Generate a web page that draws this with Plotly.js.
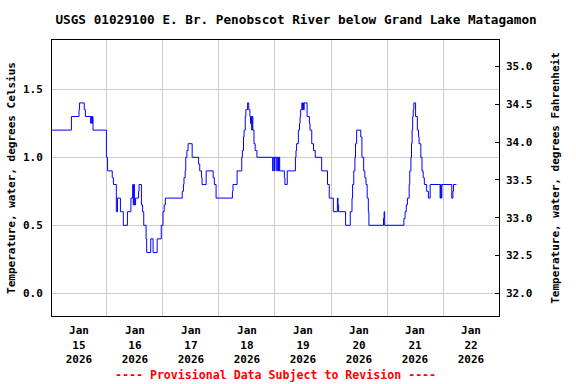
<!DOCTYPE html>
<html>
<head>
<meta charset="utf-8">
<script src="https://cdn.plot.ly/plotly-3.0.1.min.js"></script>
<style>html,body{margin:0;padding:0;background:#fff;}#chart{width:576px;height:384px;}</style>
</head>
<body>
<div id="chart"></div>
<script>
// Water temperature (deg C), change points of the 15-minute record
const times = [
"2026-01-14 12:30","2026-01-14 20:45",
"2026-01-15 00:00","2026-01-15 00:15","2026-01-15 02:15","2026-01-15 02:45","2026-01-15 05:00","2026-01-15 05:15",
"2026-01-15 05:30","2026-01-15 05:45","2026-01-15 06:00","2026-01-15 11:45","2026-01-15 12:15","2026-01-15 14:15",
"2026-01-15 14:45","2026-01-15 16:00","2026-01-15 16:30","2026-01-15 17:45","2026-01-15 19:00","2026-01-15 20:45",
"2026-01-15 22:15","2026-01-15 23:00","2026-01-15 23:15","2026-01-15 23:30","2026-01-15 23:45",
"2026-01-16 00:15","2026-01-16 01:30","2026-01-16 01:45","2026-01-16 02:45","2026-01-16 03:15","2026-01-16 03:45",
"2026-01-16 04:45","2026-01-16 05:00","2026-01-16 06:45","2026-01-16 07:45","2026-01-16 09:30","2026-01-16 11:15",
"2026-01-16 12:00","2026-01-16 12:30","2026-01-16 13:00","2026-01-16 20:15","2026-01-16 20:45","2026-01-16 21:00",
"2026-01-16 21:30","2026-01-16 21:45","2026-01-16 22:15","2026-01-16 22:45",
"2026-01-17 00:30","2026-01-17 03:15","2026-01-17 03:45","2026-01-17 04:30","2026-01-17 04:45","2026-01-17 06:30",
"2026-01-17 09:30","2026-01-17 10:00","2026-01-17 10:45","2026-01-17 17:45","2026-01-17 18:00","2026-01-17 19:45",
"2026-01-17 21:45","2026-01-17 22:00","2026-01-17 22:30","2026-01-17 22:45","2026-01-17 23:15","2026-01-17 23:30",
"2026-01-18 00:15","2026-01-18 00:45","2026-01-18 01:15","2026-01-18 01:30","2026-01-18 01:45","2026-01-18 02:00",
"2026-01-18 02:15","2026-01-18 02:30","2026-01-18 03:00","2026-01-18 03:30","2026-01-18 04:15","2026-01-18 11:00",
"2026-01-18 11:15","2026-01-18 11:45","2026-01-18 12:00","2026-01-18 12:45","2026-01-18 13:00","2026-01-18 13:30",
"2026-01-18 13:45","2026-01-18 14:00","2026-01-18 16:00","2026-01-18 16:15","2026-01-18 17:15","2026-01-18 20:45",
"2026-01-18 21:00","2026-01-18 21:15","2026-01-18 22:00","2026-01-18 22:30","2026-01-18 22:45","2026-01-18 23:00",
"2026-01-18 23:30","2026-01-18 23:45",
"2026-01-19 00:00","2026-01-19 00:15","2026-01-19 00:30","2026-01-19 01:45","2026-01-19 02:45","2026-01-19 03:00",
"2026-01-19 03:45","2026-01-19 04:30","2026-01-19 05:15","2026-01-19 08:00","2026-01-19 10:30","2026-01-19 11:15",
"2026-01-19 13:00","2026-01-19 14:45","2026-01-19 15:00","2026-01-19 15:15","2026-01-19 18:15","2026-01-19 20:15",
"2026-01-19 21:00","2026-01-19 21:15","2026-01-19 21:45","2026-01-19 22:15","2026-01-19 22:30","2026-01-19 23:00",
"2026-01-20 00:45","2026-01-20 01:15","2026-01-20 02:00","2026-01-20 02:30","2026-01-20 03:00","2026-01-20 03:30",
"2026-01-20 04:00","2026-01-20 04:15","2026-01-20 10:30","2026-01-20 10:45","2026-01-20 11:00","2026-01-20 19:15",
"2026-01-20 19:45","2026-01-20 20:15","2026-01-20 20:45","2026-01-20 21:30","2026-01-20 21:45","2026-01-20 22:15",
"2026-01-20 22:30","2026-01-20 22:45","2026-01-20 23:00","2026-01-20 23:15","2026-01-20 23:30",
"2026-01-21 00:15","2026-01-21 01:00","2026-01-21 01:30","2026-01-21 01:45","2026-01-21 02:30","2026-01-21 03:00",
"2026-01-21 03:30","2026-01-21 04:00","2026-01-21 05:00","2026-01-21 05:45","2026-01-21 06:30","2026-01-21 10:45",
"2026-01-21 11:00","2026-01-21 11:15","2026-01-21 11:30","2026-01-21 15:45","2026-01-21 16:15","2026-01-21 16:30",
"2026-01-21 17:45"
];
const tempC = [
1.2,1.3,
1.35,1.4,1.35,1.3,1.25,1.3,
1.25,1.3,1.2,1.0,0.9,0.85,
0.8,0.6,0.7,0.6,0.5,0.6,
0.7,0.8,0.65,0.8,0.65,
0.7,0.75,0.8,0.65,0.6,0.5,
0.4,0.3,0.4,0.3,0.4,0.5,
0.6,0.65,0.7,0.75,0.8,0.85,
0.9,1.0,1.05,1.1,
1.0,0.95,0.9,0.85,0.8,0.9,
0.85,0.8,0.7,0.75,0.8,0.9,
1.0,1.05,1.15,1.2,1.3,1.35,
1.4,1.35,1.3,1.25,1.3,1.2,
1.3,1.2,1.1,1.05,1.0,0.9,
1.0,0.9,1.0,0.9,1.0,0.9,
1.0,0.9,0.85,0.8,0.9,1.0,
1.05,1.1,1.2,1.25,1.3,1.35,
1.4,1.35,
1.4,1.35,1.4,1.3,1.25,1.2,
1.1,1.05,1.0,0.9,0.8,0.7,
0.6,0.7,0.65,0.6,0.5,0.6,
0.7,0.8,0.9,1.0,1.1,1.2,
1.15,1.0,0.9,0.85,0.8,0.7,
0.6,0.5,0.55,0.6,0.5,0.55,
0.6,0.65,0.7,0.8,0.9,1.0,
1.1,1.2,1.3,1.35,1.4,
1.3,1.2,1.15,1.1,1.0,0.9,
0.85,0.8,0.75,0.7,0.8,0.7,
0.8,0.7,0.8,0.7,0.75,0.8,
0.8
];

const dayTicks = ["2026-01-15","2026-01-16","2026-01-17","2026-01-18","2026-01-19","2026-01-20","2026-01-21","2026-01-22"];
const dayLabels = ["Jan<br>15<br>2026","Jan<br>16<br>2026","Jan<br>17<br>2026","Jan<br>18<br>2026","Jan<br>19<br>2026","Jan<br>20<br>2026","Jan<br>21<br>2026","Jan<br>22<br>2026"];
const noonGrid = ["2026-01-15 12:00","2026-01-16 12:00","2026-01-17 12:00","2026-01-18 12:00","2026-01-19 12:00","2026-01-20 12:00","2026-01-21 12:00"];
const celsiusTicks = [0, 0.5, 1.0, 1.5];
const fahrenheitTicks = [32.0, 32.5, 33.0, 33.5, 34.0, 34.5, 35.0];

const xRange = ["2026-01-14 12:26", "2026-01-22 12:00"];
const cRange = [-0.167, 1.8625];
const fRange = cRange.map(c => c * 1.8 + 32);

const FONT = "DejaVu Sans Mono";
const tickFont = {family: FONT, size: 11, color: "#000", weight: "bold"};

const traces = [
  {x: times, y: tempC, type: "scatter", mode: "lines", line: {color: "#0000ff", width: 1, shape: "hv"}, hoverinfo: "skip", showlegend: false},
  {x: [], y: [], type: "scatter", mode: "lines", yaxis: "y2", hoverinfo: "skip", showlegend: false}
];

const layout = {
  width: 576, height: 384,
  margin: {l: 52, r: 77, t: 40, b: 68, pad: 0},
  paper_bgcolor: "#fff", plot_bgcolor: "#fff",
  showlegend: false,
  title: {text: "USGS 01029100 E. Br. Penobscot River below Grand Lake Matagamon",
          font: {family: FONT, size: 12.7, color: "#000", weight: "bold"},
          x: 0.514, xanchor: "center", y: 0.95, yanchor: "middle"},
  xaxis: {type: "date", range: xRange, tickmode: "array", tickvals: dayTicks, ticktext: dayLabels,
          showgrid: false, zeroline: false, showline: true, linecolor: "#000", linewidth: 1, mirror: true,
          ticks: "", tickfont: tickFont, ticklabelstandoff: 4,
          minor: {tickmode: "array", tickvals: noonGrid, showgrid: true, gridcolor: "#cccccc", gridwidth: 1, ticks: ""}},
  yaxis: {range: cRange, tickmode: "array", tickvals: celsiusTicks, tickformat: ".1f",
          showgrid: true, gridcolor: "#cccccc", gridwidth: 1, zeroline: false,
          showline: true, linecolor: "#000", linewidth: 1, mirror: true, ticks: "",
          tickfont: tickFont, ticklabelstandoff: 6,
          title: {text: "Temperature, water, degrees Celsius", font: tickFont, standoff: 5}},
  yaxis2: {range: fRange, overlaying: "y", side: "right", tickmode: "array", tickvals: fahrenheitTicks, tickformat: ".1f",
           showgrid: false, zeroline: false, showline: false, ticks: "inside", ticklen: 4, tickcolor: "#000",
           tickfont: tickFont, ticklabelstandoff: 6,
           title: {text: "Temperature, water, degrees Fahrenheit", font: tickFont, standoff: 19}},
  annotations: [{text: "---- Provisional Data Subject to Revision ----", xref: "paper", yref: "paper",
                 x: 0.5, y: -0.214, xanchor: "center", yanchor: "middle", showarrow: false,
                 font: {family: FONT, size: 11.6, color: "#ff0000", weight: "bold"}}]
};

Plotly.newPlot("chart", traces, layout, {displayModeBar: false, staticPlot: true});
</script>
</body>
</html>
